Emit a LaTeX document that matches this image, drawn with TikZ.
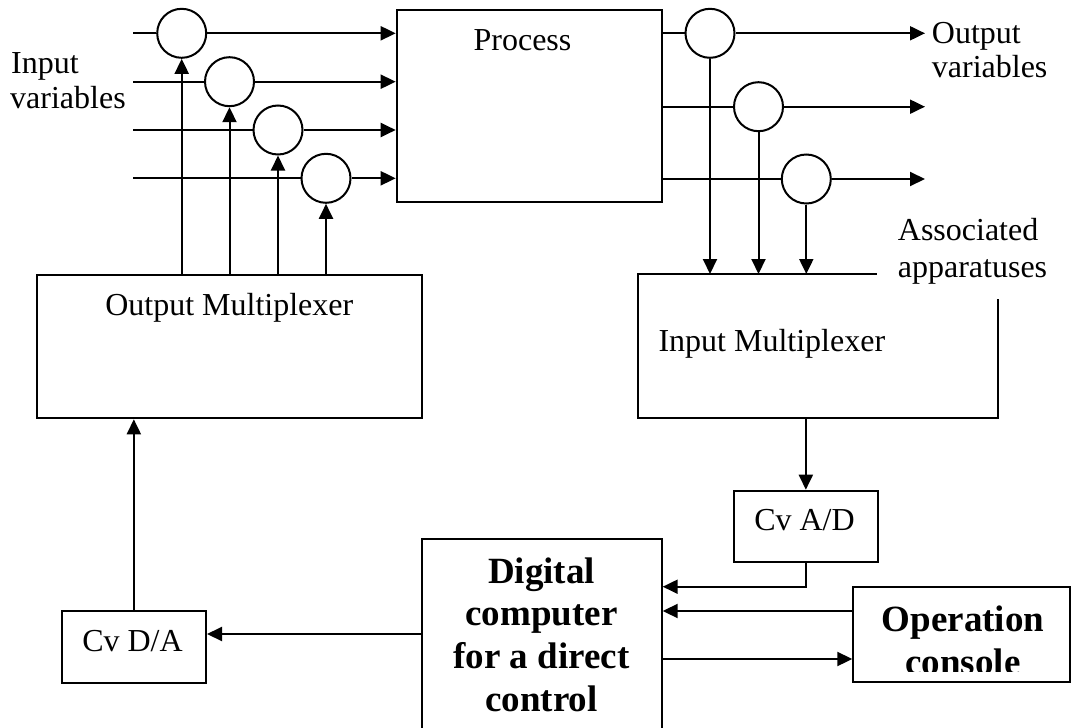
\documentclass[tikz,border=0pt]{standalone}
\usepackage{fontspec}
\setmainfont{Liberation Serif}
\usetikzlibrary{arrows.meta}
\begin{document}
\begin{tikzpicture}[x=1pt,y=-1pt,
  ln/.style={line width=2pt},
  arr/.style={line width=2pt,-{Triangle[length=15pt,width=14pt]}},
  box/.style={draw,line width=2pt,rectangle,inner sep=0pt},
  sig/.style={draw,line width=2pt,circle,inner sep=0pt,minimum size=49pt},
  lab/.style={inner sep=0pt,font=\fontsize{32}{36.8}\selectfont},
  blab/.style={inner sep=0pt,font=\fontsize{37}{42.7}\selectfont\bfseries}]
\clip (0,0) rectangle (1071,728);
% main boxes
\node[box,minimum width=265pt,minimum height=191.7pt] (proc) at (529.2,105.85) {};
\node[lab,anchor=base] (proct) at (522.5,50) {Process};
\node[box,minimum width=384.4pt,minimum height=143.6pt] (omux) at (229.5,346.5) {};
\node[lab,anchor=base] (omuxt) at (229.3,315) {Output Multiplexer};
\node[box,minimum width=144.3pt,minimum height=71.7pt] (cvda) at (133.85,646.85) {};
\node[lab,anchor=base] (cvdat) at (132.5,651) {Cv D/A};
\node[box,minimum width=143.7pt,minimum height=71.6pt] (cvad) at (805.85,526.5) {};
\node[lab,anchor=base] (cvadt) at (804.5,530.7) {Cv A/D};
\node[box,minimum width=239.7pt,minimum height=220.7pt] (dig) at (541.85,649.65) {};
\node[blab,anchor=base] (d1) at (541.5,583.3) {Digital};
\node[blab,anchor=base] (d2) at (541.5,625) {computer};
\node[blab,anchor=base] (d3) at (541.5,668.3) {for a direct};
\node[blab,anchor=base] (d4) at (541.5,711.7) {control};
\node[box,minimum width=216.2pt,minimum height=95pt] (opc) at (961.4,634.8) {};
\node[blab,anchor=base] (o1) at (963,631.7) {Operation};
\begin{scope}
\clip (855,589) rectangle (1068,671.7);
\node[blab,anchor=base] (o2) at (963,674.4) {console};
\end{scope}
% input multiplexer (open outline)
\coordinate (im1) at (876.7,274);
\coordinate (im2) at (637.7,274);
\coordinate (im3) at (637.7,418.3);
\coordinate (im4) at (997.7,418.3);
\coordinate (im5) at (997.7,299);
\draw[ln] (im1) -- (im2) -- (im3) -- (im4) -- (im5);
\node[lab,anchor=base west] (imuxt) at (658.3,351.7) {Input Multiplexer};
% labels
\node[lab,anchor=base west] (inl1) at (11,73.3) {Input};
\node[lab,anchor=base west] (inl2) at (10,108.3) {variables};
\node[lab,anchor=base west] (outl1) at (931.7,43.3) {Output};
\node[lab,anchor=base west] (outl2) at (931.7,77) {variables};
\node[lab,anchor=base west] (as1) at (897.7,240) {Associated};
\node[lab,anchor=base west] (as2) at (897.7,277) {apparatuses};
% input signal circles
\node[sig] (ci1) at (181.7,33.3) {};
\node[sig] (ci2) at (229.5,81.7) {};
\node[sig] (ci3) at (278,130) {};
\node[sig] (ci4) at (326,178.3) {};
\coordinate (s1) at (133.3,33.3);
\coordinate (s2) at (133.3,81.7);
\coordinate (s3) at (133.3,130);
\coordinate (s4) at (133.3,178.3);
\foreach \i in {1,2,3,4}{
  \draw[ln] (s\i) -- (ci\i);
  \draw[arr] (ci\i) -- (ci\i -| proc.west);
  \draw[arr] (ci\i |- omux.north) -- (ci\i);
}
% output signal circles
\node[sig] (co1) at (710,33.3) {};
\node[sig] (co2) at (758.5,106.7) {};
\node[sig] (co3) at (806.3,179) {};
\coordinate (e1) at (925,33.3);
\coordinate (e2) at (925,106.7);
\coordinate (e3) at (925,179);
\foreach \i in {1,2,3}{
  \draw[ln] (co\i -| proc.east) -- (co\i);
  \draw[arr] (co\i) -- (e\i);
  \draw[arr] (co\i) -- (co\i |- im2);
}
% lower connections
\draw[arr] (cvad.north |- im3) -- (cvad.north);
\coordinate (j1) at (805.85,586.7);
\draw[arr] (cvad.south) -- (j1) -- (dig.east |- j1);
\coordinate (j2) at (0,611);
\draw[arr] (opc.west |- j2) -- (dig.east |- j2);
\coordinate (j3) at (0,659);
\draw[arr] (dig.east |- j3) -- (opc.west |- j3);
\coordinate (j4) at (0,634);
\draw[arr] (dig.west |- j4) -- (cvda.east |- j4);
\draw[arr] (cvda.north) -- (cvda.north |- omux.south);
\end{tikzpicture}
\end{document}
